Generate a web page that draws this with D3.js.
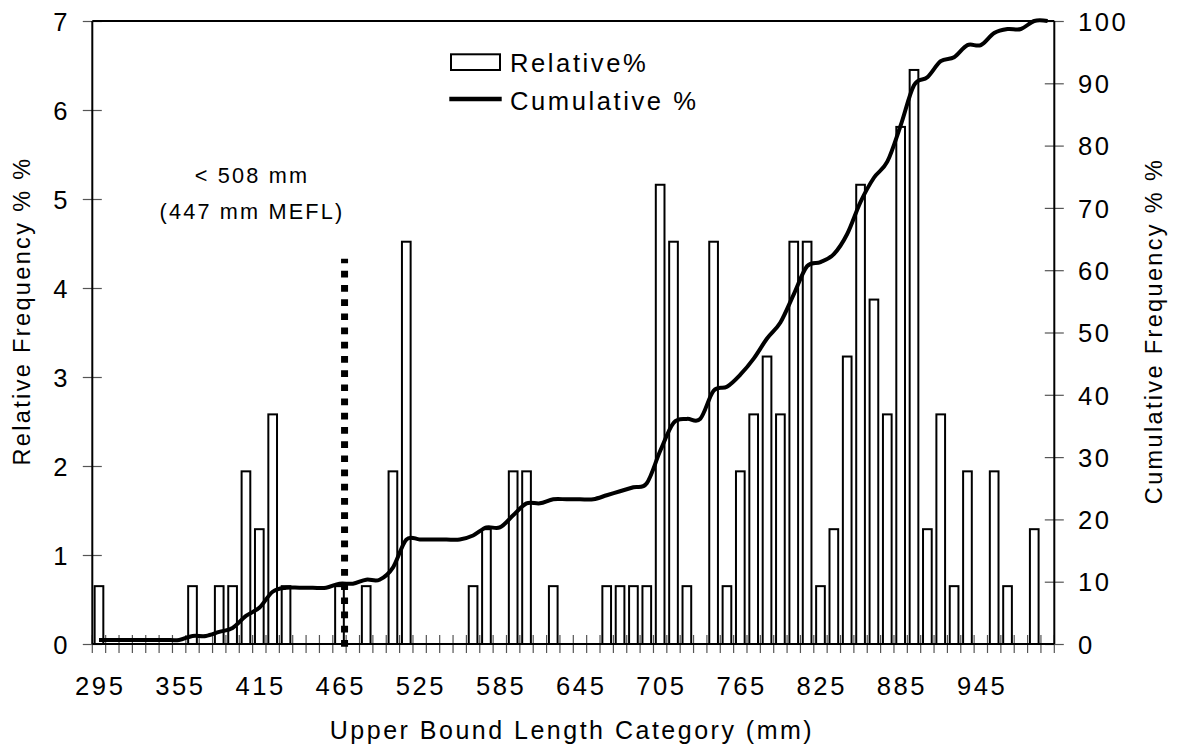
<!DOCTYPE html>
<html>
<head>
<meta charset="utf-8">
<script src="https://cdn.jsdelivr.net/npm/d3@7"></script>
<style>
body { margin: 0; background: #fff; }
text { font-family: "Liberation Sans", Arial, sans-serif; fill: #000; }
</style>
</head>
<body>
<div id="chart"></div>
<script>
// upper bound of each length category (mm)
var categories = [295, 305, 315, 325, 335, 345, 355, 365, 375, 385,
    395, 405, 415, 425, 435, 445, 455, 458, 465, 475,
    485, 495, 505, 515, 525, 535, 545, 555, 565, 575,
    585, 595, 605, 615, 625, 635, 645, 655, 665, 675,
    685, 695, 705, 715, 725, 735, 745, 755, 765, 775,
    785, 795, 805, 815, 825, 835, 845, 855, 865, 875,
    885, 895, 905, 915, 925, 935, 945, 955, 965, 975,
    985, 995];

// relative frequency (%)
var relative = [0.65, 0, 0, 0, 0, 0, 0, 0.65, 0, 0.65,
    0.65, 1.94, 1.29, 2.58, 0.65, 0, 0, 0, 0.65, 0,
    0.65, 0, 1.94, 4.52, 0, 0, 0, 0, 0.65, 1.29,
    0, 1.94, 1.94, 0, 0.65, 0, 0, 0, 0.65, 0.65,
    0.65, 0.65, 5.16, 4.52, 0.65, 0, 4.52, 0.65, 1.94, 2.58,
    3.23, 2.58, 4.52, 4.52, 0.65, 1.29, 3.23, 5.16, 3.87, 2.58,
    5.81, 6.45, 1.29, 2.58, 0.65, 1.94, 0, 1.94, 0.65, 0,
    1.29, 0];

// cumulative frequency (%)
var cumulative = [0.65, 0.65, 0.65, 0.65, 0.65, 0.65, 0.65, 1.29, 1.29, 1.94,
    2.58, 4.52, 5.81, 8.39, 9.03, 9.03, 9.03, 9.03, 9.68, 9.68,
    10.32, 10.32, 12.26, 16.77, 16.77, 16.77, 16.77, 16.77, 17.42, 18.71,
    18.71, 20.65, 22.58, 22.58, 23.23, 23.23, 23.23, 23.23, 23.87, 24.52,
    25.16, 25.81, 30.97, 35.48, 36.13, 36.13, 40.65, 41.29, 43.23, 45.81,
    49.03, 51.61, 56.13, 60.65, 61.29, 62.58, 65.81, 70.97, 74.84, 77.42,
    83.23, 89.68, 90.97, 93.55, 94.19, 96.13, 96.13, 98.06, 98.71, 98.71,
    100, 100];

var xTickLabels = [295, 355, 415, 465, 525, 585, 645, 705, 765, 825, 885, 945];
var leftTicks = [0, 1, 2, 3, 4, 5, 6, 7];
var rightTicks = [0, 10, 20, 30, 40, 50, 60, 70, 80, 90, 100];

// legal size marker
var cutoffCategory = 465;
var cutoffTop = 4.33;
var noteLines = ["< 508 mm", "(447 mm MEFL)"];

var margin = { top: 21, right: 122.7, bottom: 107, left: 92.3 },
    width = 1177 - margin.left - margin.right,
    height = 751 - margin.top - margin.bottom;

var fs = 25.6, ls = 2.56;

var svg = d3.select("#chart")
    .append("svg")
    .attr("width", 1177)
    .attr("height", 751)
    .append("g")
    .attr("transform", "translate(" + margin.left + "," + margin.top + ")");

var x = d3.scaleBand()
    .domain(categories)
    .range([0, width]);
var bw = x.bandwidth();

var yL = d3.scaleLinear().domain([0, 7]).range([height, 0]);
var yR = d3.scaleLinear().domain([0, 100]).range([height, 0]);

var data = categories.map(function (c, i) {
    return { cat: c, rel: relative[i], cum: cumulative[i] };
});

// bars
svg.selectAll("rect.bar")
    .data(data.filter(function (d) { return d.rel > 0; }))
    .enter()
    .append("rect")
    .attr("class", "bar")
    .attr("x", function (d) { return x(d.cat) + bw * 0.175; })
    .attr("width", bw * 0.65)
    .attr("y", function (d) { return yL(d.rel); })
    .attr("height", function (d) { return height - yL(d.rel); })
    .attr("fill", "#fff")
    .attr("stroke", "#000")
    .attr("stroke-width", 2);

// x ticks at category boundaries
var bounds = categories.map(function (c) { return x(c); }).concat([width]);
svg.append("g").selectAll("line")
    .data(bounds)
    .enter()
    .append("line")
    .attr("x1", function (d) { return d; })
    .attr("x2", function (d) { return d; })
    .attr("y1", height - 9)
    .attr("y2", height + 9)
    .attr("stroke", "#555")
    .attr("stroke-width", 1.2);

svg.append("g").selectAll("text")
    .data(xTickLabels)
    .enter()
    .append("text")
    .attr("x", function (d) { return x(d) + bw / 2 + ls / 2; })
    .attr("y", height + 51)
    .attr("text-anchor", "middle")
    .style("font-size", fs + "px")
    .style("letter-spacing", ls + "px")
    .text(function (d) { return d; });

// left axis
var left = svg.append("g").call(d3.axisLeft(yL).tickValues(leftTicks).tickFormat(d3.format("d")).tickSize(9.5));
left.select(".domain").remove();
left.selectAll(".tick line").attr("x1", -9.5).attr("x2", 9.5).attr("stroke", "#555").attr("stroke-width", 1.2);
left.selectAll(".tick text")
    .attr("x", -24.8 + ls)
    .attr("dy", "0.36em")
    .style("font-size", fs + "px")
    .style("letter-spacing", ls + "px")
    .style("font-family", "Liberation Sans, Arial, sans-serif");

// right axis
var right = svg.append("g")
    .attr("transform", "translate(" + width + ",0)")
    .call(d3.axisRight(yR).tickValues(rightTicks).tickFormat(d3.format("d")).tickSize(9.5));
right.select(".domain").remove();
right.selectAll(".tick line").attr("x1", -9.5).attr("x2", 9.5).attr("stroke", "#555").attr("stroke-width", 1.2);
right.selectAll(".tick text")
    .attr("x", 23.7)
    .attr("dy", "0.36em")
    .style("font-size", fs + "px")
    .style("letter-spacing", ls + "px")
    .style("font-family", "Liberation Sans, Arial, sans-serif");

// frame lines
svg.append("line").attr("x1", 0).attr("x2", width).attr("y1", height).attr("y2", height)
    .attr("stroke", "#000").attr("stroke-width", 2);
svg.append("line").attr("x1", 0).attr("x2", width).attr("y1", 0).attr("y2", 0)
    .attr("stroke", "#000").attr("stroke-width", 2);
svg.append("line").attr("x1", 0).attr("x2", 0).attr("y1", 0).attr("y2", height)
    .attr("stroke", "#000").attr("stroke-width", 2);
svg.append("line").attr("x1", width).attr("x2", width).attr("y1", 0).attr("y2", height)
    .attr("stroke", "#000").attr("stroke-width", 2);

// dotted cutoff line
var cx = x(cutoffCategory) + bw * 0.88;
svg.append("line")
    .attr("x1", cx).attr("x2", cx)
    .attr("y1", yL(0) + 2.7).attr("y2", yL(cutoffTop))
    .attr("stroke", "#000")
    .attr("stroke-width", 7)
    .attr("stroke-dasharray", "6.7,7.5");

// cumulative line
var line = d3.line()
    .x(function (d) { return x(d.cat) + bw / 2; })
    .y(function (d) { return yR(d.cum); })
    .curve(d3.curveCatmullRom.alpha(0));

svg.append("path")
    .datum(data)
    .attr("d", line)
    .attr("fill", "none")
    .attr("stroke", "#000")
    .attr("stroke-width", 4)
    .attr("stroke-linejoin", "round");

// annotation
svg.append("g").selectAll("text")
    .data(noteLines)
    .enter()
    .append("text")
    .attr("x", 252 - margin.left)
    .attr("y", function (d, i) { return 182.5 - margin.top + i * 36; })
    .attr("text-anchor", "middle")
    .style("font-size", "21.7px")
    .style("letter-spacing", "2.17px")
    .text(function (d) { return d; });

// legend
var lg = svg.append("g").attr("transform", "translate(" + (-margin.left) + "," + (-margin.top) + ")");
lg.append("rect").attr("x", 451).attr("y", 54.3).attr("width", 49).attr("height", 15.7)
    .attr("fill", "#fff").attr("stroke", "#000").attr("stroke-width", 2);
lg.append("text").attr("x", 510).attr("y", 71.7)
    .style("font-size", fs + "px").style("letter-spacing", ls + "px").text("Relative%");
lg.append("line").attr("x1", 449.3).attr("x2", 501.7).attr("y1", 99).attr("y2", 99)
    .attr("stroke", "#000").attr("stroke-width", 4.5);
lg.append("text").attr("x", 510).attr("y", 110)
    .style("font-size", fs + "px").style("letter-spacing", ls + "px").text("Cumulative %");

// axis titles
svg.append("text")
    .attr("x", 570.7 - margin.left + ls / 2)
    .attr("y", 739 - margin.top)
    .attr("text-anchor", "middle")
    .style("font-size", "25px")
    .style("letter-spacing", "2.5px")
    .text("Upper Bound Length Category (mm)");

svg.append("text")
    .attr("transform", "translate(" + (30 - margin.left) + "," + (311 - margin.top) + ") rotate(-90)")
    .attr("text-anchor", "middle")
    .style("font-size", "23.5px")
    .style("letter-spacing", "2.35px")
    .text("Relative Frequency % %");

svg.append("text")
    .attr("transform", "translate(" + (1162 - margin.left) + "," + (331 - margin.top) + ") rotate(-90)")
    .attr("text-anchor", "middle")
    .style("font-size", "23.5px")
    .style("letter-spacing", "2.35px")
    .text("Cumulative Frequency % %");
</script>
</body>
</html>
